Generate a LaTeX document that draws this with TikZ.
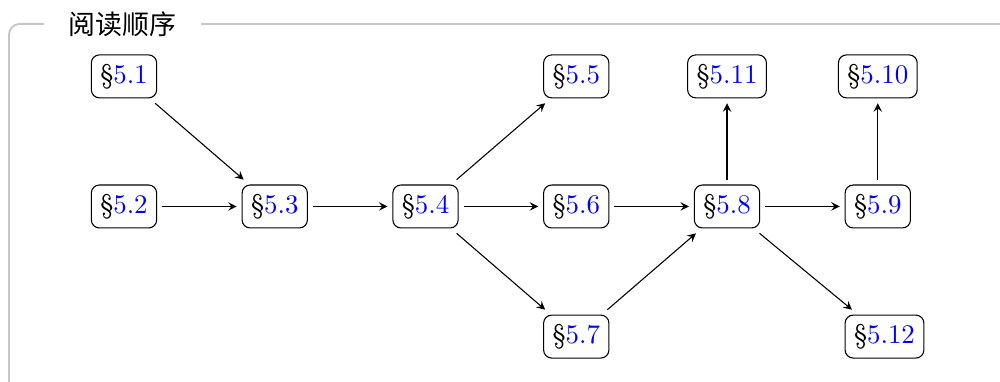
\documentclass[tikz,border=0pt]{standalone}
\usepackage{fontspec}
\newfontfamily\cjkfont{Noto Sans CJK SC}
\usetikzlibrary{positioning, arrows}
\tikzset{
	>=stealth, % arrow heads
	node distance=1.7cm and 1.97cm, % rows and columns of the grid
	sec/.style={draw, rounded corners=3pt, outer sep=2pt}, % one box per section
	frame/.style={draw=gray!45, line width=0.7pt, rounded corners=4pt}, % box round the whole graph
}
\newcommand{\secnum}[1]{\S\textcolor{blue}{#1}}

\begin{document}
\begin{tikzpicture}[on grid]
	\useasboundingbox (-46.1pt,28.4pt) rectangle (325.7pt,-113.6pt);
	% frame with its title
	\coordinate (fbl) at (-42.75pt,-113.6pt);
	\coordinate (ftr) at (325.7pt,19.5pt);
	\node[inner xsep=9pt, font=\cjkfont] (title) at (-0.6pt,19.5pt) {阅读顺序};
	\draw[frame] (title.west) -| (fbl);
	\draw[frame] (title.east) -- (ftr);
	% sections
			\node[sec] (s51) {\secnum{5.1}};
			\node[sec, below=of s51] (s52) {\secnum{5.2}};
			\node[sec, right=of s52] (s53) {\secnum{5.3}};
			\node[sec, right=of s53] (s54) {\secnum{5.4}};
			\node[sec, right=of s54] (s56) {\secnum{5.6}};
			\node[sec, above=of s56] (s55) {\secnum{5.5}};
			\node[sec, below=of s56] (s57) {\secnum{5.7}};
			\node[sec, right=of s56] (s58) {\secnum{5.8}};
			\node[sec, above=of s58] (s511) {\secnum{5.11}};
			\node[sec, right=of s58] (s59) {\secnum{5.9}};
			\node[sec, above=of s59] (s510) {\secnum{5.10}};
			\node[sec, anchor=west] at (s59.west |- s57) (s512) {\secnum{5.12}};
	\draw[->] (s51) edge (s53)
			(s52) edge (s53)
			(s53) edge (s54)
			(s54) edge (s55)
			(s54) edge (s56)
			(s54) edge (s57)
			(s56) edge (s58)
			(s57) edge (s58)
			(s58) edge (s511)
			(s58) edge (s59)
			(s58) edge (s512)
			(s59) edge (s510);
\end{tikzpicture}
\end{document}
